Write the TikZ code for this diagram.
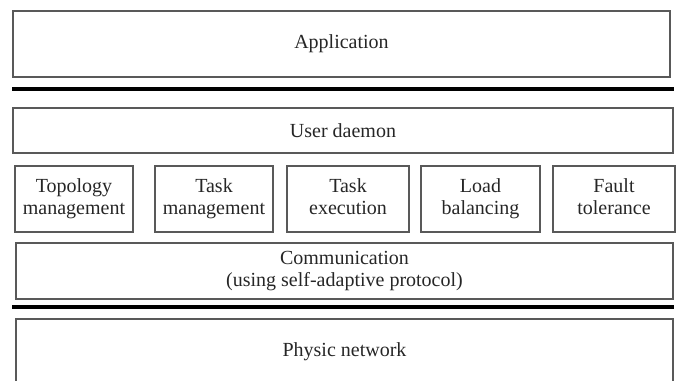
\documentclass[tikz,border=0pt]{standalone}
\usepackage{fontspec}
\setmainfont{Liberation Serif}
\usepackage{tikz}

\tikzset{
	layer/.style={draw=black!65,line width=0.8pt,inner sep=0pt,align=center,text=black!85,
		font=\fontsize{15}{16.5}\selectfont},
	sepline/.style={line width=3pt,black}
}

\begin{document}
\begin{tikzpicture}[x=0.75pt,y=-0.75pt]
		\useasboundingbox (0,0) rectangle (683,381);
		\node[layer,minimum width=492.75pt,minimum height=49.5pt] (app) at (341.5,44) {Application};
		\coordinate (sepAw) at (12,89);
		\coordinate (sepAe) at (674,89);
		\draw[sepline] (sepAw) -- (sepAe);
		\node[layer,minimum width=495pt,minimum height=33.75pt] (daemon) at (343,130.5) {User daemon};
		% modules of the daemon
		\foreach \nm/\cx/\bw/\txt in {topo/74/88.5pt/{Topology\\management},
			taskmgmt/214/88.5pt/{Task\\management},taskexec/348/91.5pt/{Task\\execution},
			load/480.5/89.25pt/{Load\\balancing},fault/614/91.5pt/{Fault\\tolerance}}
		\node[layer,minimum width=\bw,minimum height=49.5pt] (\nm) at (\cx,199) {\strut\txt\strut};
		\node[layer,minimum width=492.75pt,minimum height=42pt] (comm) at (344.5,271) {Communication\\(using self-adaptive protocol)};
		\coordinate (sepBw) at (12,307);
		\coordinate (sepBe) at (674,307);
		\draw[sepline] (sepBw) -- (sepBe);
		\node[layer,minimum width=492.75pt,minimum height=49.5pt] (phys) at (344.5,352) {Physic network};

	    \end{tikzpicture}
\end{document}
